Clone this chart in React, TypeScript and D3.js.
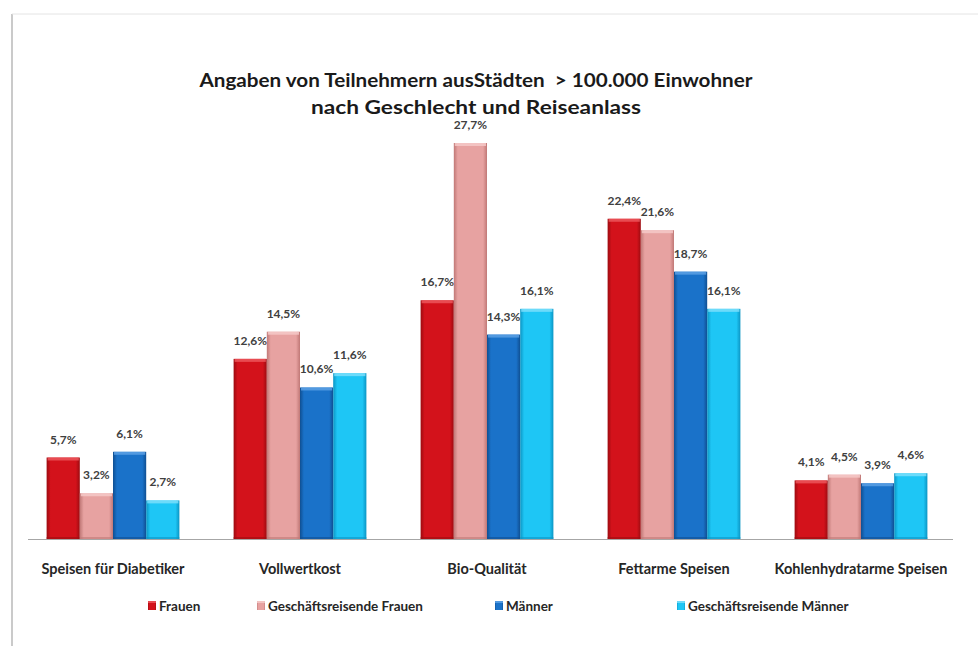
import React from "react";
import * as d3 from "d3";

const categories = [
  "Speisen für Diabetiker",
  "Vollwertkost",
  "Bio-Qualität",
  "Fettarme Speisen",
  "Kohlenhydratarme Speisen",
];
const seriesNames = ["Frauen", "Geschäftsreisende Frauen", "Männer", "Geschäftsreisende Männer"];
const frauen = [5.7, 12.6, 16.7, 22.4, 4.1];
const gFrauen = [3.2, 14.5, 27.7, 21.6, 4.5];
const maenner = [6.1, 10.6, 14.3, 18.7, 3.9];
const gMaenner = [2.7, 11.6, 16.1, 16.1, 4.6];
const seriesValues = [frauen, gFrauen, maenner, gMaenner];
const colors = [
  { base: "#d3121b", dark: "#9c0b10", light: "#ee5a5f" },
  { base: "#e7a2a1", dark: "#c07876", light: "#f6cccb" },
  { base: "#1a72c9", dark: "#0f4f92", light: "#5fa3e6" },
  { base: "#1ec6f5", dark: "#0b95c4", light: "#7fe0fb" },
];
const titleLines = [
  "Angaben von Teilnehmern ausStädten  > 100.000 Einwohner",
  "nach Geschlecht und Reiseanlass",
];

const W = 978;
const H = 646;
const baseY = 539;
const font = "Lato, 'Open Sans', sans-serif";

export default function App() {
  const x = d3
    .scaleBand<string>()
    .domain(categories)
    .range([19.5, 954.5])
    .paddingInner(0.29)
    .paddingOuter(0.145);
  const x1 = d3
    .scaleBand<number>()
    .domain(d3.range(seriesNames.length))
    .range([0, x.bandwidth()])
    .padding(0);
  const y = d3.scaleLinear().domain([0, 27.7]).range([baseY, 143]);
  const fmt = (v: number) => v.toFixed(1).replace(".", ",") + "%";
  const legendX = [148, 257, 495, 677];

  return (
    <svg
      width={W}
      height={H}
      style={{ position: "absolute", left: 0, top: 0, background: "#fff" }}
    >
      <defs>
        {colors.map((c, i) => (
          <linearGradient key={i} id={`g${i}`} x1="0" x2="1" y1="0" y2="0">
            <stop offset="0" stopColor={c.dark} />
            <stop offset="0.12" stopColor={c.base} />
            <stop offset="0.88" stopColor={c.base} />
            <stop offset="1" stopColor={c.dark} />
          </linearGradient>
        ))}
        <filter id="shadow" x="-5%" y="-5%" width="110%" height="110%">
          <feGaussianBlur stdDeviation="2" />
        </filter>
      </defs>
      {/* frame */}
      <line x1={10} y1={16} x2={10} y2={646} stroke="#999" strokeWidth={5} filter="url(#shadow)" />
      <line x1={12} y1={13} x2={978} y2={13} stroke="#ccc" strokeWidth={3} filter="url(#shadow)" />
      <rect x={12} y={14} width={970} height={640} fill="#fff" />
      <line x1={12} y1={14} x2={12} y2={646} stroke="#b8b8b8" strokeWidth={1.5} />
      <line x1={12} y1={14} x2={978} y2={14} stroke="#e4e4e4" strokeWidth={1} />

      {/* title */}
      {titleLines.map((t, i) => (
        <text
          key={i}
          x={476}
          y={87 + i * 27}
          textAnchor="middle"
          fontFamily={font}
          fontWeight={700}
          fontSize={19}
          fill="#1a1a1a"
          style={{ whiteSpace: "pre" }}
          textLength={i === 0 ? 553 : 330}
          lengthAdjust="spacingAndGlyphs"
        >
          {t}
        </text>
      ))}

      {/* bars */}
      {categories.map((cat, ci) => (
        <g key={cat} transform={`translate(${x(cat)},0)`}>
          {seriesValues.map((vals, si) => {
            const v = vals[ci];
            const bx = x1(si)!;
            const bw = x1.bandwidth();
            const top = y(v);
            const c = colors[si];
            return (
              <g key={si}>
                <rect x={bx} y={top} width={bw} height={baseY - top} fill={`url(#g${si})`} />
                <rect x={bx + 1} y={top} width={bw - 2} height={3} fill={c.light} opacity={0.8} />
                <rect x={bx} y={baseY - 2} width={bw} height={2} fill={c.dark} opacity={0.6} />
                <text
                  x={bx + bw / 2}
                  y={top - 14}
                  textAnchor="middle"
                  fontFamily={font}
                  fontWeight={700}
                  fontSize={12}
                  fill="#404040"
                >
                  {fmt(v)}
                </text>
              </g>
            );
          })}
        </g>
      ))}

      {/* axis line */}
      <line x1={28} y1={baseY + 0.5} x2={953} y2={baseY + 0.5} stroke="#a6a6a6" strokeWidth={1} />

      {/* category labels */}
      {categories.map((cat) => (
        <text
          key={cat}
          x={x(cat)! + x.bandwidth() / 2}
          y={574}
          textAnchor="middle"
          fontFamily={font}
          fontWeight={700}
          fontSize={14.5}
          fill="#262626"
        >
          {cat}
        </text>
      ))}

      {/* legend */}
      {seriesNames.map((n, i) => (
        <g key={n} transform={`translate(${legendX[i]},601)`}>
          <rect x={0} y={0} width={8} height={9} fill={`url(#g${i})`} />
          <rect x={0} y={0} width={8} height={2} fill={colors[i].light} opacity={0.8} />
          <text x={11} y={9.5} fontFamily={font} fontWeight={700} fontSize={13.5} fill="#262626">
            {n}
          </text>
        </g>
      ))}
    </svg>
  );
}
